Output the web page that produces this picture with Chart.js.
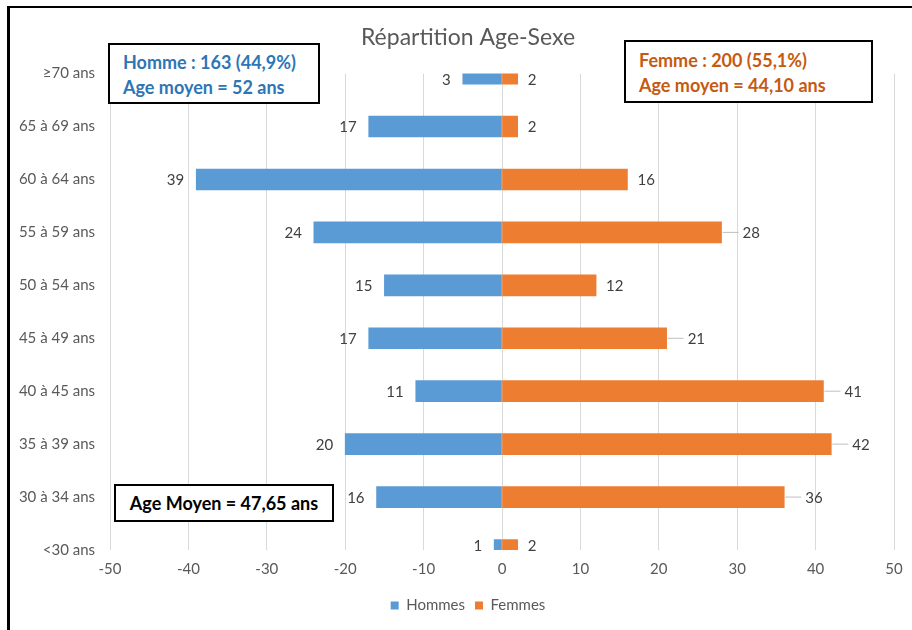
<!DOCTYPE html>
<html lang="fr">
<head>
<meta charset="utf-8">
<script src="https://cdn.jsdelivr.net/npm/chart.js@4.4.1/dist/chart.umd.min.js"></script>
<style>
    body { margin: 0; background: #fff; }
    #wrap { position: relative; width: 912px; height: 630px; overflow: hidden; }
    #graph { position: absolute; left: 0; top: 0; }
    #cadre { position: absolute; left: 7px; top: 6px; width: 1000px; height: 700px;
             border-left: 3px solid #000; border-top: 2px solid #000; pointer-events: none; }
    .boite { position: absolute; border: 2px solid #000; background: #fff; box-sizing: border-box;
             font-family: Lato, sans-serif; font-weight: bold; font-size: 18px; line-height: 25px; white-space: nowrap; }
</style>
</head>
<body>
<div id="wrap">
    <canvas id="graph" width="940" height="630"></canvas>
    <div id="cadre"></div>
    <div class="boite" style="left:108px;top:43px;width:212px;height:61px;padding:5px 0 0 13px;color:#2E75B6;">
        Homme : 163 (44,9%)<br>Age moyen = 52 ans
    </div>
    <div class="boite" style="left:624px;top:40px;width:249px;height:63px;padding:6px 0 0 13px;color:#C55A11;">
        Femme : 200 (55,1%)<br>Age moyen = 44,10 ans
    </div>
    <div class="boite" style="left:114px;top:484px;width:220px;height:38px;padding:5px 0 0 0;text-align:center;color:#000;">
        Age Moyen = 47,65 ans
    </div>
</div>
<script>
const tranches = ['≥70 ans', '65 à 69 ans', '60 à 64 ans', '55 à 59 ans', '50 à 54 ans',
                  '45 à 49 ans', '40 à 45 ans', '35 à 39 ans', '30 à 34 ans', '<30 ans'];
// longueur des barres (la barre ≥70 est plus longue que son étiquette)
const hommes = [5, 17, 39, 24, 15, 17, 11, 20, 16, 1];
const hommesEtiquettes = ['3', '17', '39', '24', '15', '17', '11', '20', '16', '1'];
const femmes = [2, 2, 16, 28, 12, 21, 41, 42, 36, 2];
const femmesEtiquettes = ['2', '2', '16', '28', '12', '21', '41', '42', '36', '2'];

const gris = '#595959';

// etiquettes de donnees au bout des barres
const etiquettes = {
    id: 'etiquettes',
    afterDatasetsDraw(chart) {
        const ctx = chart.ctx;
        const zone = chart.chartArea;
        const textes = [hommesEtiquettes, femmesEtiquettes];
        ctx.save();
        ctx.font = '15px Lato';
        ctx.fillStyle = '#404040';
        ctx.textBaseline = 'middle';
        chart.data.datasets.forEach((ds, i) => {
            const meta = chart.getDatasetMeta(i);
            meta.data.forEach((barre, j) => {
                const h = barre.height;
                const y = (Math.max(barre.y - h / 2, zone.top) + Math.min(barre.y + h / 2, zone.bottom)) / 2 + 1;
                if (i === 0) {
                    ctx.textAlign = 'right';
                    ctx.fillText(textes[i][j], barre.x - 12, y);
                } else {
                    ctx.textAlign = 'left';
                    if (femmes[j] >= 20) {
                        // ligne de rappel
                        ctx.strokeStyle = '#bfbfbf';
                        ctx.lineWidth = 1;
                        ctx.beginPath();
                        ctx.moveTo(barre.x + 1, y - 1);
                        ctx.lineTo(barre.x + 17, y - 1);
                        ctx.stroke();
                        ctx.fillText(textes[i][j], barre.x + 21, y);
                    } else {
                        ctx.fillText(textes[i][j], barre.x + 10, y);
                    }
                }
            });
        });
        ctx.restore();
    }
};

const graphique = new Chart(document.getElementById('graph'), {
    type: 'bar',
    data: {
        labels: tranches,
        datasets: [
            { label: 'Hommes', data: hommes.map(v => -v), backgroundColor: '#5B9BD5',
              borderWidth: 0, barThickness: 21, clip: 0 },
            { label: 'Femmes', data: femmes, backgroundColor: '#ED7D31',
              borderWidth: 0, barThickness: 21, clip: 0 }
        ]
    },
    options: {
        indexAxis: 'y',
        responsive: false,
        animation: false,
        layout: { padding: { left: 12, right: 16, top: 0, bottom: 7 } },
        scales: {
            x: {
                min: -50, max: 50, stacked: true,
                ticks: { stepSize: 10, color: gris, font: { family: 'Lato', size: 15 }, padding: 10 },
                grid: { color: '#d9d9d9', drawTicks: false },
                border: { display: false },
                afterFit(s) { s.height = 38; }
            },
            y: {
                stacked: true, offset: false,
                ticks: { color: gris, font: { family: 'Lato', size: 15 }, padding: 15 },
                grid: { display: false, offset: false, drawTicks: false },
                border: { display: false },
                afterFit(s) { s.width = 98; }
            },
            // marge vide a droite pour centrer titre et legende comme dans Excel
            yMarge: {
                type: 'category', position: 'right', axis: 'y',
                ticks: { display: false },
                grid: { display: false, drawTicks: false },
                border: { display: false },
                afterFit(s) { s.width = 30; }
            }
        },
        plugins: {
            title: {
                display: true, text: 'Répartition Age-Sexe', color: gris,
                font: { family: 'Lato', size: 23, weight: 'normal' },
                padding: { top: 24, bottom: 22 }
            },
            legend: {
                position: 'bottom',
                labels: { color: gris, font: { family: 'Lato', size: 15 }, boxWidth: 8, boxHeight: 8, padding: 10 }
            },
            tooltip: { enabled: false }
        }
    },
    plugins: [etiquettes]
});
</script>
</body>
</html>
